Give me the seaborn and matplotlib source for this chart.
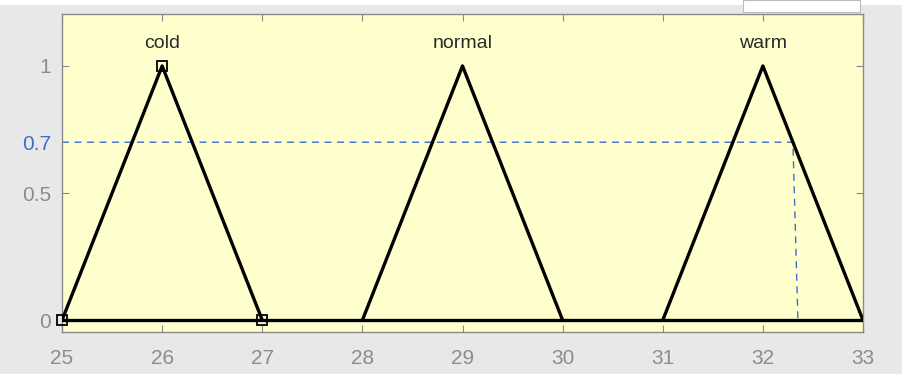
import matplotlib
matplotlib.use("Agg")
import matplotlib.pyplot as plt
import seaborn as sns
import pandas as pd
from matplotlib.patches import Rectangle

# Data
set_names = ["cold", "normal", "warm"]
set_x = [[25, 26, 27], [28, 29, 30], [31, 32, 33]]
set_y = [0, 1, 0]
base_x = [25, 33]
base_y = [0, 0]
marker_x = [25, 26, 27]
marker_y = [0, 1, 0]
cut_level = 0.7
cut_path_x = [25, 32.3, 32.35]
cut_path_y = [0.7, 0.7, 0]
xticks = [25, 26, 27, 28, 29, 30, 31, 32, 33]
yticks = [0, 0.5, 1]

sns.set_theme(style="white")
plt.rcParams['font.family'] = ['Liberation Sans', 'DejaVu Sans']

fig = plt.figure(figsize=(9.03, 3.74), dpi=100, facecolor="#E8E8E8")
ax = fig.add_axes([0.0687, 0.112, 0.887, 0.851])
ax.set_facecolor("#FFFFCD")

# white strip at top & white box top-right (window chrome)
fig.patches.append(Rectangle((0, 0.987), 1, 0.013, transform=fig.transFigure,
                             facecolor="white", edgecolor="none", zorder=0))
fig.patches.append(Rectangle((743/903, 1-12/374), (860-743)/903, 12/374,
                             transform=fig.transFigure, facecolor="white",
                             edgecolor="#BBBBBB", lw=0.8, zorder=0))

rows = []
for name, xs in zip(set_names, set_x):
    for i, (xv, yv) in enumerate(zip(xs, set_y)):
        rows.append({"set": name, "x": xv, "y": yv, "order": i})
df = pd.DataFrame(rows)

sns.lineplot(data=pd.DataFrame({"x": base_x, "y": base_y}), x="x", y="y",
             color="black", lw=2.4, ax=ax, sort=False, zorder=3)
for name in set_names:
    d = df[df["set"] == name]
    sns.lineplot(data=d, x="x", y="y", color="black", lw=2.4, ax=ax,
                 sort=False, zorder=3)
    peak = d.loc[d["y"].idxmax()]
    ax.text(peak["x"], 1.09, name, ha="center", va="center",
            fontsize=14, color="#2B2B2B")

ax.plot(marker_x, marker_y, ls="none", marker="s", ms=7, mfc="none",
        mec="black", mew=1.3, zorder=4, clip_on=False)

ax.plot(cut_path_x, cut_path_y, ls=(0, (5, 4)), color="#3B6FCF", lw=1.0,
        zorder=2)

ax.set_xlim(25, 33)
ax.set_ylim(-0.047, 1.205)
ax.set_xticks(xticks)
ax.set_yticks(yticks)
ax.set_yticks([cut_level], minor=True)
ax.set_xticklabels([str(t) for t in xticks])
ax.set_yticklabels(["0", "0.5", "1"])
ax.set_yticklabels(["0.7"], minor=True)
ax.tick_params(axis="both", which="major", direction="in", length=5, width=0.8,
               color="#888888", labelcolor="#8C8C8C", labelsize=15,
               top=True, right=True, bottom=True, left=True)
ax.tick_params(axis="x", pad=12)
ax.tick_params(axis="y", which="major", pad=8)
ax.tick_params(axis="y", which="minor", length=0, pad=8, labelsize=15,
               labelcolor="#3B6FCF", left=True, right=False)
ax.set_xlabel("")
ax.set_ylabel("")
for s in ax.spines.values():
    s.set_color("#8A8A8A")
    s.set_linewidth(1.0)

fig.savefig("out.png", dpi=100, facecolor=fig.get_facecolor())
